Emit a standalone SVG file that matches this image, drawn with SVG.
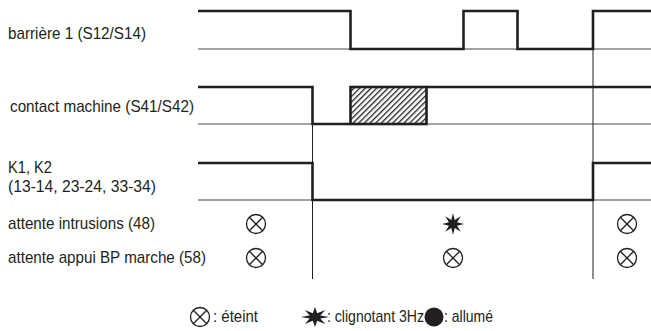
<svg xmlns="http://www.w3.org/2000/svg" width="651" height="331" viewBox="0 0 651 331">
<style>
.lbl{font-family:"Liberation Sans Narrow","Liberation Sans",Arial,sans-serif;font-size:17px;fill:#231f20}
.base{stroke:#4a4a4a;stroke-width:1.2;fill:none}
.sig{stroke:#231f20;stroke-width:2.6;fill:none;stroke-linejoin:miter}
.hatched{stroke:#231f20;stroke-width:2.6;fill:url(#hatch)}
.vl{stroke:#231f20;stroke-width:1;fill:none}
.off{fill:none;stroke:#231f20;stroke-width:1.3}
.star{fill:#231f20}
</style>
<defs>
<pattern id="hatch" patternUnits="userSpaceOnUse" width="4" height="4" patternTransform="rotate(45)">
<rect x="0" y="0" width="1.3" height="4" fill="#231f20"/>
</pattern>
<g id="offsym">
<circle cx="0" cy="0" r="9.5" class="off"/>
<line x1="-6.7" y1="-6.7" x2="6.7" y2="6.7" class="off"/>
<line x1="-6.7" y1="6.7" x2="6.7" y2="-6.7" class="off"/>
</g>
<polygon id="starsym" class="star" points="0,-11 1.7,-4.1 7.8,-7.8 4.1,-1.7 11,0 4.1,1.7 7.8,7.8 1.7,4.1 0,11 -1.7,4.1 -7.8,7.8 -4.1,1.7 -11,0 -4.1,-1.7 -7.8,-7.8 -1.7,-4.1"/>
</defs>
<rect width="651" height="331" fill="#fff"/>

<g id="connectors">
<line class="base" x1="198" y1="49" x2="651" y2="49"/>
<line class="base" x1="198" y1="124" x2="651" y2="124"/>
<line class="base" x1="198" y1="200" x2="651" y2="200"/>
<line class="vl" x1="312.5" y1="87" x2="312.5" y2="279"/>
<line class="vl" x1="593" y1="49" x2="593" y2="279"/>
</g>

<g id="barriere">
<text class="lbl" x="8" y="39" textLength="138" lengthAdjust="spacingAndGlyphs">barrière 1 (S12/S14)</text>
<path class="sig" d="M198,11 H350.5 V49 H463.5 V11 H517.5 V49 H593 V11 H651"/>
</g>

<g id="contact">
<text class="lbl" x="10" y="112" textLength="184" lengthAdjust="spacingAndGlyphs">contact machine (S41/S42)</text>
<path class="sig" d="M198,87 H312.5 V124 H350.5"/>
<rect x="350.5" y="87" width="76" height="37" class="hatched"/>
<path class="sig" d="M426.5,87 H651"/>
</g>

<g id="k1k2">
<text class="lbl" x="8" y="173" textLength="44" lengthAdjust="spacingAndGlyphs">K1, K2</text>
<text class="lbl" x="8" y="192" textLength="148" lengthAdjust="spacingAndGlyphs">(13-14, 23-24, 33-34)</text>
<path class="sig" d="M198,163 H312.5 V200 H593 V163 H651"/>
</g>

<g id="intrusions">
<text class="lbl" x="8" y="229" textLength="147" lengthAdjust="spacingAndGlyphs">attente intrusions (48)</text>
<use href="#offsym" x="256" y="224"/>
<use href="#starsym" x="453" y="224"/>
<use href="#offsym" x="627" y="224"/>
</g>

<g id="appui">
<text class="lbl" x="8" y="263" textLength="198" lengthAdjust="spacingAndGlyphs">attente appui BP marche (58)</text>
<use href="#offsym" x="256" y="258"/>
<use href="#offsym" x="453" y="258"/>
<use href="#offsym" x="627" y="258"/>
</g>

<g id="legend">
<use href="#offsym" x="200" y="317"/>
<text class="lbl" x="213" y="322" textLength="45" lengthAdjust="spacingAndGlyphs">: éteint</text>
<use href="#starsym" transform="translate(315 317) scale(1.3 0.9)"/>
<text class="lbl" x="327" y="322" textLength="97" lengthAdjust="spacingAndGlyphs">: clignotant 3Hz</text>
<circle cx="434" cy="317" r="9.5" fill="#231f20"/>
<text class="lbl" x="444" y="322" textLength="49" lengthAdjust="spacingAndGlyphs">: allumé</text>
</g>
</svg>
